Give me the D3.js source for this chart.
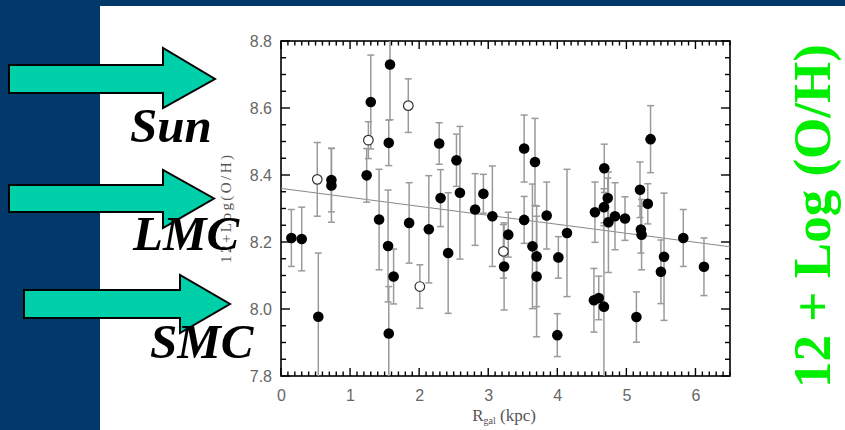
<!DOCTYPE html>
<html>
<head>
<meta charset="utf-8">
<script src="https://cdn.jsdelivr.net/npm/d3@7/dist/d3.min.js"></script>
<style>
  html, body { margin: 0; padding: 0; background: #ffffff; }
  svg { display: block; }
</style>
</head>
<body>
<div id="chart"></div>
<script>
// ---------- DATA ----------
// Filled symbols: galactocentric radius (kpc), 12+log(O/H), symmetric error
const filledR = [0.15, 0.30, 0.54, 0.73, 0.73, 1.24, 1.30, 1.42, 1.578, 1.56, 1.55, 1.63, 1.56, 1.855, 2.14,
  2.29, 2.31, 2.42, 2.54, 2.59, 2.81, 2.93, 3.06, 3.23, 3.29, 3.52, 3.52, 3.677, 3.64, 3.70, 3.70, 3.846,
  4.015, 4.14, 4.0, 4.545, 4.53, 4.60, 4.675, 4.68, 4.73, 4.675, 4.74, 4.835, 4.98, 5.35, 5.197, 5.31,
  5.21, 5.22, 5.145, 5.50, 5.545, 5.824, 6.123];
const filledOH = [8.212, 8.209, 7.977, 8.385, 8.369, 8.399, 8.618, 8.267, 8.73, 8.496, 8.188, 8.097, 7.927, 8.257, 8.238,
  8.494, 8.331, 8.167, 8.444, 8.347, 8.297, 8.344, 8.277, 8.127, 8.222, 8.479, 8.266, 8.439, 8.187, 8.157, 8.097, 8.279,
  8.154, 8.227, 7.922, 8.289, 8.026, 8.033, 8.007, 8.42, 8.331, 8.304, 8.259, 8.277, 8.27, 8.507, 8.356, 8.314,
  8.237, 8.222, 7.976, 8.111, 8.156, 8.212, 8.126];
const filledErr = [0.085, 0.095, 0.19, 0.095, 0.11, 0.08, 0.14, 0.15, 0.165, 0.068, 0.167, 0.082, 0.14, 0.12, 0.16,
  0.062, 0.085, 0.18, 0.078, 0.198, 0.107, 0.058, 0.15, 0.13, 0.067, 0.10, 0.07, 0.13, 0.186, 0.15, 0.18, 0.10,
  0.062, 0.19, 0.064, 0.09, 0.095, 0.065, 0.25, 0.072, 0.06, 0.055, 0.15, 0.10, 0.065, 0.10, 0.083, 0.06,
  0.07, 0.105, 0.075, 0.095, 0.19, 0.085, 0.086];

// Open symbols
const openR   = [0.525, 1.265, 1.843, 2.01, 3.22];
const openOH  = [8.387, 8.504, 8.607, 8.067, 8.172];
const openErr = [0.11, 0.055, 0.08, 0.065, 0.08];

// Linear gradient fit: 12+log(O/H) = fitA + fitB * R
const fitA = 8.36, fitB = -0.0268;

const xTicks = [0, 1, 2, 3, 4, 5, 6];
const yTicks = [7.8, 8.0, 8.2, 8.4, 8.6, 8.8];
const xLabel = "R";
const xLabelSub = "gal";
const xLabelTail = " (kpc)";
const yLabel = "12+Log(O/H)";
const markerLabels = ["Sun", "LMC", "SMC"];
const sideTitle = "12 + Log (O/H)";

// ---------- DRAWING ----------
const W = 845, H = 430;
const svg = d3.select("#chart").append("svg").attr("width", W).attr("height", H);

// slide background
svg.append("rect").attr("x", 0).attr("y", 0).attr("width", W).attr("height", H).attr("fill", "#ffffff");
svg.append("rect").attr("x", 0).attr("y", 0).attr("width", 100).attr("height", H).attr("fill", "#02386a");
svg.append("rect").attr("x", 0).attr("y", 0).attr("width", W).attr("height", 6).attr("fill", "#02386a");

const plot = {left: 281, right: 730, top: 41, bottom: 376};
const x = d3.scaleLinear().domain([0, 6.5]).range([plot.left, plot.right]);
const y = d3.scaleLinear().domain([7.8, 8.8]).range([plot.bottom, plot.top]);

svg.append("clipPath").attr("id", "clip").append("rect")
  .attr("x", plot.left).attr("y", plot.top)
  .attr("width", plot.right - plot.left).attr("height", plot.bottom - plot.top);

// frame
svg.append("rect").attr("x", plot.left).attr("y", plot.top)
  .attr("width", plot.right - plot.left).attr("height", plot.bottom - plot.top)
  .attr("fill", "none").attr("stroke", "#000").attr("stroke-width", 1.6);

// tick labels via d3 axes
function styleAxis(g) {
  g.select(".domain").remove();
  g.selectAll(".tick line").remove();
  g.selectAll(".tick text").attr("fill", "#666").style("font-family", "'Liberation Sans', Arial, sans-serif").style("font-size", "16px");
}
styleAxis(svg.append("g").attr("transform", `translate(0,${plot.bottom})`)
  .call(d3.axisBottom(x).tickValues(xTicks).tickFormat(d3.format("d")).tickSize(0).tickPadding(14)));
styleAxis(svg.append("g").attr("transform", `translate(${plot.left},0)`)
  .call(d3.axisLeft(y).tickValues(yTicks).tickFormat(d3.format(".1f")).tickSize(0).tickPadding(9)));

// inward tick marks on all four sides, placed with the scales
const minorX = d3.range(0, 6.5001, 0.1).map(v => ({v, major: Math.abs(v - Math.round(v)) < 1e-6}));
const minorY = d3.range(7.8, 8.8001, 0.05).map(v => ({v, major: Math.abs(v * 5 - Math.round(v * 5)) < 1e-6}));
const tk = svg.append("g").attr("stroke", "#000").attr("stroke-width", 1.4);
[plot.bottom, plot.top].forEach((yy, side) => {
  const dir = side === 0 ? -1 : 1;
  tk.append("g").selectAll("line").data(minorX).join("line")
    .attr("x1", d => x(d.v)).attr("x2", d => x(d.v))
    .attr("y1", yy).attr("y2", d => yy + dir * (d.major ? 8 : 4.5));
});
[plot.left, plot.right].forEach((xx, side) => {
  const dir = side === 0 ? 1 : -1;
  tk.append("g").selectAll("line").data(minorY).join("line")
    .attr("y1", d => y(d.v)).attr("y2", d => y(d.v))
    .attr("x1", xx).attr("x2", d => xx + dir * (d.major ? 9 : 5));
});

// fit line
const inner = svg.append("g").attr("clip-path", "url(#clip)");
inner.append("line")
  .attr("x1", x(0)).attr("y1", y(fitA))
  .attr("x2", x(6.5)).attr("y2", y(fitA + fitB * 6.5))
  .attr("stroke", "#888").attr("stroke-width", 1);

// error bars
const filled = filledR.map((r, i) => ({r, v: filledOH[i], e: filledErr[i]}));
const open = openR.map((r, i) => ({r, v: openOH[i], e: openErr[i]}));
const allPts = filled.concat(open);
const eb = inner.append("g").attr("stroke", "#9a9a9a").attr("stroke-width", 1.5).attr("fill", "none");
allPts.forEach(d => {
  const cx = x(d.r);
  eb.append("line").attr("x1", cx).attr("x2", cx).attr("y1", y(d.v - d.e)).attr("y2", y(d.v + d.e));
  eb.append("line").attr("x1", cx - 3.5).attr("x2", cx + 3.5).attr("y1", y(d.v - d.e)).attr("y2", y(d.v - d.e));
  eb.append("line").attr("x1", cx - 3.5).attr("x2", cx + 3.5).attr("y1", y(d.v + d.e)).attr("y2", y(d.v + d.e));
});

// symbols
inner.append("g").selectAll("circle").data(filled).join("circle")
  .attr("cx", d => x(d.r)).attr("cy", d => y(d.v)).attr("r", 5.3).attr("fill", "#000");
inner.append("g").selectAll("circle").data(open).join("circle")
  .attr("cx", d => x(d.r)).attr("cy", d => y(d.v)).attr("r", 4.8)
  .attr("fill", "#fff").attr("stroke", "#333").attr("stroke-width", 1.2);

// axis titles
const xt = svg.append("text").attr("x", 504).attr("y", 421).attr("text-anchor", "middle")
  .attr("fill", "#555").style("font-family", "'Liberation Serif', serif").style("font-size", "17px");
xt.append("tspan").text(xLabel);
xt.append("tspan").attr("dy", 3).style("font-size", "10px").text(xLabelSub);
xt.append("tspan").attr("dy", -3).text(xLabelTail);

svg.append("text").attr("transform", "translate(231,209) rotate(-90)")
  .attr("text-anchor", "middle").attr("fill", "#555")
  .attr("textLength", 108).attr("lengthAdjust", "spacing")
  .style("font-family", "'Liberation Serif', serif").style("font-size", "15px")
  .text(yLabel);

// arrows
const arrows = [
  {x0: 9, x1: 163, yt: 65, yb: 93, ht: 48, hb: 108, tx: 215},
  {x0: 9, x1: 163, yt: 185, yb: 212, ht: 170, hb: 228, tx: 214},
  {x0: 24, x1: 180, yt: 290, yb: 318, ht: 275, hb: 333, tx: 230}
];
arrows.forEach(a => {
  const ym = (a.yt + a.yb) / 2;
  const pts = [[a.x0, a.yt], [a.x1, a.yt], [a.x1, a.ht], [a.tx, ym], [a.x1, a.hb], [a.x1, a.yb], [a.x0, a.yb]];
  svg.append("polygon").attr("points", pts.map(p => p.join(",")).join(" "))
    .attr("fill", "#00d0aa").attr("stroke", "#000").attr("stroke-width", 2).attr("stroke-linejoin", "miter");
});

// marker labels
const labelPos = [[130, 142], [133, 250], [150, 358]];
markerLabels.forEach((t, i) => {
  svg.append("text").attr("x", labelPos[i][0]).attr("y", labelPos[i][1])
    .attr("fill", "#000").style("font-family", "'Liberation Serif', 'Times New Roman', serif")
    .style("font-size", "49px").style("font-weight", "bold").style("font-style", "italic")
    .text(t);
});

// side title
svg.append("text").attr("transform", "translate(830,216) rotate(-90)")
  .attr("text-anchor", "middle").attr("fill", "#00ee00")
  .style("font-family", "'Liberation Serif', 'Times New Roman', serif")
  .style("font-size", "53px").style("font-weight", "bold")
  .text(sideTitle);
</script>
</body>
</html>
